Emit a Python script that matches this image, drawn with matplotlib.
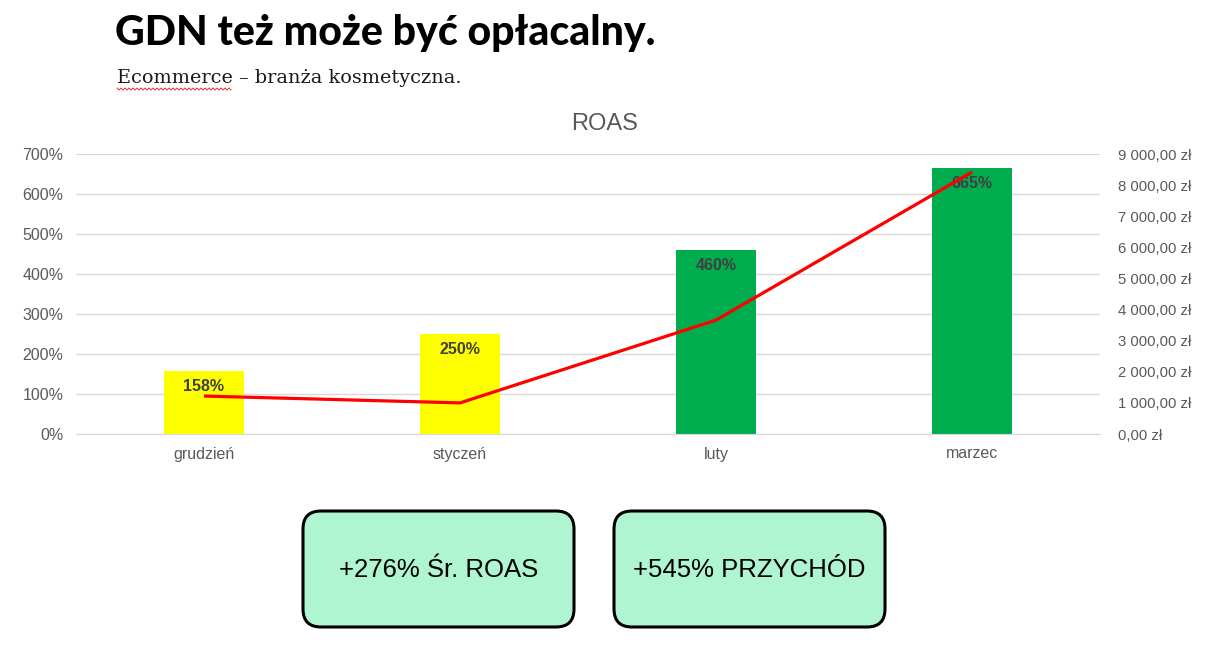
import numpy as np
import matplotlib

matplotlib.use("Agg")
import matplotlib.pyplot as plt
from matplotlib.patches import FancyBboxPatch
from matplotlib.ticker import FixedLocator, FuncFormatter

plt.rcParams["font.family"] = ["Liberation Sans", "DejaVu Sans"]

months = ["grudzień", "styczeń", "luty", "marzec"]
roas = [1.58, 2.50, 4.60, 6.65]
roas_labels = ["158%", "250%", "460%", "665%"]
bar_colors = ["#FFFF00", "#FFFF00", "#00AD4E", "#00AD4E"]
revenue = [1220, 1000, 3660, 8420]

pct_ticks = [0, 1, 2, 3, 4, 5, 6, 7]
pln_ticks = [0, 1000, 2000, 3000, 4000, 5000, 6000, 7000, 8000, 9000]

kpi_texts = ["+276% Śr. ROAS", "+545% PRZYCHÓD"]

GRAY = "#595959"
GRID = "#D9D9D9"


def pln(v, _pos=None):
    whole = f"{v:,.2f}".replace(",", " ").replace(".", ",")
    return f"{whole} zł"


fig = plt.figure(figsize=(12.10, 6.48), dpi=100)
fig.patch.set_facecolor("white")

ax = fig.add_axes([76 / 1210, 1 - 434 / 648, 1024 / 1210, 280 / 648])
x = np.arange(len(months))
ax.bar(x, roas, width=0.31, color=bar_colors, zorder=2)
ax.set_xlim(-0.5, len(months) - 0.5)
ax.set_ylim(0, 7)
ax.yaxis.set_major_locator(FixedLocator(pct_ticks))
ax.yaxis.set_major_formatter(FuncFormatter(lambda v, p: f"{v * 100:.0f}%"))
ax.set_xticks(x)
ax.set_xticklabels(months)
ax.yaxis.grid(True, color=GRID, linewidth=1.0, zorder=0)
ax.set_axisbelow(True)
for side in ("top", "right", "left"):
    ax.spines[side].set_visible(False)
ax.spines["bottom"].set_color(GRID)
ax.tick_params(axis="y", length=0, pad=9, labelsize=11.5, labelcolor=GRAY)
ax.tick_params(axis="x", length=0, pad=9, labelsize=11.5, labelcolor=GRAY)

for xi, v, lab in zip(x, roas, roas_labels):
    ax.annotate(lab, (xi, v), textcoords="offset points", xytext=(0, -6),
                ha="center", va="top", fontsize=11.5, fontweight="bold",
                color="#404040", zorder=3)

ax2 = ax.twinx()
ax2.plot(x, revenue, color="#FF0000", linewidth=2.3, solid_capstyle="butt",
         zorder=4)
ax2.set_ylim(0, 9000)
ax2.yaxis.set_major_locator(FixedLocator(pln_ticks))
ax2.yaxis.set_major_formatter(FuncFormatter(pln))
for side in ("top", "right", "left", "bottom"):
    ax2.spines[side].set_visible(False)
ax2.tick_params(axis="y", length=0, pad=13, labelsize=10.7, labelcolor=GRAY)

fig.text(605 / 1210, 1 - 124 / 648, "ROAS", fontsize=17, color=GRAY,
         ha="center", va="center")

# header texts
fig.text(115 / 1210, 1 - 33 / 648, "GDN też może być opłacalny.",
         fontsize=29.5, fontweight="black", color="black", ha="left",
         va="center", family=["Lato", "DejaVu Sans"])
fig.text(117 / 1210, 1 - 78 / 648, "Ecommerce – branża kosmetyczna.",
         fontsize=13.9, color="#1a1a1a", ha="left", va="center",
         family=["DejaVu Serif", "Liberation Serif"])

# overlay in pixel units for spell-check squiggle and KPI boxes
ov = fig.add_axes([0, 0, 1, 1], zorder=5)
ov.set_xlim(0, 1210)
ov.set_ylim(648, 0)
ov.axis("off")
ov.patch.set_alpha(0)

sx = np.arange(117, 233, 2.0)
sy = 89 + np.where(np.arange(len(sx)) % 2 == 0, -1.0, 1.0)
ov.plot(sx, sy, color="#E03030", linewidth=0.7)

for left, txt in zip([303, 614], kpi_texts):
    box = FancyBboxPatch((left + 18, 511 + 18), 271 - 36, 116 - 36,
                         boxstyle="round,pad=18", facecolor="#AFF5D2",
                         edgecolor="black", linewidth=2.2)
    ov.add_patch(box)
    ov.text(left + 135.5, 570, txt, ha="center", va="center",
            fontsize=18.5, color="black")

fig.savefig("out.png", dpi=100, facecolor="white")
